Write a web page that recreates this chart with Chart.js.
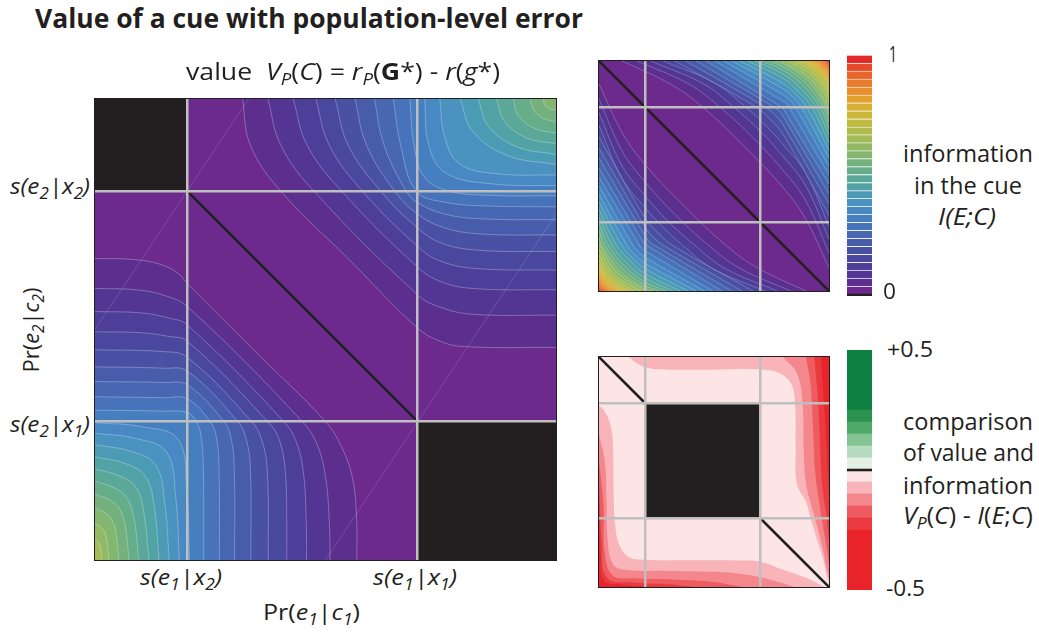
<!DOCTYPE html>
<html>
<head>
<meta charset="utf-8">
<title>Value of a cue with population-level error</title>
<script src="https://cdn.jsdelivr.net/npm/chart.js@4.4.1/dist/chart.umd.min.js"></script>
<style>
html,body{margin:0;padding:0;background:#fff;}
body{width:1039px;height:636px;position:relative;overflow:hidden;font-family:"Open Sans","Noto Sans","DejaVu Sans",sans-serif;color:#231f20;}
canvas{position:absolute;}
.frame{position:absolute;box-sizing:border-box;border:1.5px solid #231f20;pointer-events:none;}
.t{position:absolute;white-space:nowrap;line-height:1;transform-origin:0 0;}
.t sub{font-size:0.7em;vertical-align:-0.32em;line-height:0;}
.it{font-style:italic;}
</style>
</head>
<body>
<canvas id="mainChart" width="461" height="461" style="left:95px;top:99px"></canvas>
<div class="frame" style="left:94px;top:98px;width:463px;height:463px"></div>
<canvas id="infoChart" width="230" height="230" style="left:599px;top:61px"></canvas>
<div class="frame" style="left:598px;top:60px;width:232px;height:232px"></div>
<canvas id="cmpChart" width="230" height="230" style="left:599px;top:357px"></canvas>
<div class="frame" style="left:598px;top:356px;width:232px;height:232px"></div>
<canvas id="infoBar" width="25" height="241" style="left:847px;top:55px"></canvas>
<canvas id="cmpBar" width="25" height="240" style="left:847px;top:350px"></canvas>

<div class="t" data-x="35" data-w="548" style="top:5px;font-size:26px;font-weight:700">Value of a cue with population-level error</div>
<div class="t" data-x="186" data-w="314" style="top:60px;font-size:23px">value&nbsp; <i>V<sub>P</sub></i>(<i>C</i>) = <i>r<sub>P</sub></i>(<b>G</b>*) - <i>r</i>(<i>g</i>*)</div>
<div class="t it" data-x="10" data-w="80" style="top:174px;font-size:22px">s(e<sub>2</sub>|x<sub>2</sub>)</div>
<div class="t it" data-x="10" data-w="80" style="top:412px;font-size:22px">s(e<sub>2</sub>|x<sub>1</sub>)</div>
<div class="t it" data-x="140" data-w="82" style="top:565px;font-size:22px">s(e<sub>1</sub>|x<sub>2</sub>)</div>
<div class="t it" data-x="373" data-w="84" style="top:565px;font-size:22px">s(e<sub>1</sub>|x<sub>1</sub>)</div>
<div class="t" data-x="263" data-w="97" style="top:600px;font-size:22px">Pr(<i>e<sub>1</sub></i>|<i>c<sub>1</sub></i>)</div>
<div class="t" data-rot="1" data-cx="30" data-cy="330" data-w="85" style="font-size:22px">Pr(<i>e<sub>2</sub></i>|<i>c<sub>2</sub></i>)</div>

<div class="t" data-x="889" data-w="8" style="top:44px;font-size:21px">1</div>
<div class="t" data-x="883" data-w="13" style="top:281px;font-size:21px">0</div>
<div class="t" data-cx="968" data-w="130" style="top:141px;font-size:24px">information</div>
<div class="t" data-cx="968" data-w="108" style="top:173px;font-size:24px">in the cue</div>
<div class="t it" data-cx="967" data-w="58" style="top:204px;font-size:24px">I(E;C)</div>
<div class="t" data-x="887" data-w="46" style="top:339px;font-size:21px">+0.5</div>
<div class="t" data-x="886" data-w="39" style="top:578px;font-size:21px">-0.5</div>
<div class="t" data-cx="968" data-w="130" style="top:409px;font-size:24px">comparison</div>
<div class="t" data-cx="968" data-w="131" style="top:440px;font-size:24px">of value and</div>
<div class="t" data-cx="968" data-w="130" style="top:473px;font-size:24px">information</div>
<div class="t" data-cx="968" data-w="130" style="top:503px;font-size:24px"><i>V<sub>P</sub></i>(<i>C</i>) - <i>I</i>(<i>E</i>;<i>C</i>)</div>

<script>
// ---------------- data ----------------
// colour of each band of width 1/30 (value / information), bottom to top
const valueBandColors = ['#6b2a8c','#5c2f8f','#533694','#4d3e99','#4a479f','#4951a5','#485cac','#4767b3','#4773ba','#467fc0','#4889c4','#4a93c0','#4c9bb5','#52a3a6','#5ba898','#66ad8a','#74b17d','#83b671','#92ba65','#a1bc59','#b0bd4e','#bfbb43','#ccb63a','#d8ae34','#e1a030','#e78f2e','#e97b2d','#e8652c','#e54b2b','#e2282a'];
const valueLevelStep = 1/30;

// strategy switch points s(e1|x2), s(e1|x1) and s(e2|x1), s(e2|x2)
const gridX = [0.2, 0.7];
const gridY = [0.3, 0.8];

// main plot: value contours in the upper-right region (level k = 1..17)
const mainUpperContours = [
 [[0.32,1],[0.337,0.9],[0.403,0.8],[0.55,0.653],[0.7,0.503],[0.75,0.474],[0.8,0.463],[1,0.461]],
 [[0.375,1],[0.403,0.9],[0.475,0.8],[0.7,0.575],[0.75,0.548],[0.82,0.533],[1,0.531]],
 [[0.43,1],[0.46,0.9],[0.535,0.8],[0.7,0.635],[0.75,0.604],[0.82,0.589],[1,0.586]],
 [[0.479,1],[0.508,0.9],[0.58,0.8],[0.7,0.68],[0.75,0.648],[0.83,0.632],[1,0.629]],
 [[0.521,1],[0.549,0.9],[0.62,0.8],[0.7,0.72],[0.75,0.688],[0.83,0.672],[1,0.669]],
 [[0.564,1],[0.589,0.9],[0.65,0.8],[0.7,0.75],[0.76,0.72],[0.84,0.707],[1,0.705]],
 [[0.606,1],[0.627,0.9],[0.675,0.8],[0.7,0.775],[0.76,0.75],[0.84,0.74],[1,0.738]],
 [[0.647,1],[0.663,0.9],[0.697,0.8],[0.76,0.776],[0.85,0.768],[1,0.766]],
 [[0.683,1],[0.692,0.9],[0.715,0.83],[0.77,0.8],[0.86,0.791],[1,0.79]],
 [[0.715,1],[0.724,0.9],[0.76,0.84],[0.86,0.816],[1,0.812]],
 [[0.748,1],[0.758,0.92],[0.79,0.86],[0.87,0.838],[1,0.835]],
 [[0.792,1],[0.82,0.929],[0.896,0.877],[1,0.858]],
 [[0.831,1],[0.854,0.94],[0.916,0.896],[1,0.88]],
 [[0.871,1],[0.888,0.952],[0.936,0.916],[1,0.903]],
 [[0.907,1],[0.919,0.963],[0.954,0.936],[1,0.926]],
 [[0.944,1],[0.952,0.976],[0.972,0.958],[1,0.951]],
 [[0.972,1],[0.976,0.988],[0.986,0.979],[1,0.976]]
];
// main plot: value contours in the lower-left region (level k = 1..19)
const mainLowerContours = [
 [[0,0.654],[0.08,0.652],[0.14,0.642],[0.18,0.622],[0.2,0.6],[0.35,0.45],[0.5,0.3],[0.535,0.245],[0.558,0.18],[0.567,0.1],[0.568,0]],
 [[0,0.589],[0.09,0.586],[0.15,0.574],[0.2,0.55],[0.45,0.3],[0.482,0.25],[0.5,0.18],[0.508,0.09],[0.51,0]],
 [[0,0.539],[0.1,0.536],[0.16,0.525],[0.2,0.51],[0.41,0.3],[0.437,0.255],[0.452,0.19],[0.458,0.09],[0.459,0]],
 [[0,0.495],[0.1,0.493],[0.16,0.485],[0.2,0.475],[0.375,0.3],[0.4,0.26],[0.413,0.19],[0.416,0.08],[0.416,0]],
 [[0,0.456],[0.15,0.452],[0.2,0.44],[0.34,0.3],[0.362,0.26],[0.374,0.19],[0.376,0]],
 [[0,0.419],[0.15,0.416],[0.2,0.41],[0.31,0.3],[0.328,0.262],[0.337,0.2],[0.338,0]],
 [[0,0.387],[0.15,0.385],[0.2,0.38],[0.28,0.3],[0.295,0.265],[0.302,0.2],[0.303,0]],
 [[0,0.354],[0.15,0.352],[0.2,0.35],[0.25,0.3],[0.263,0.268],[0.269,0.2],[0.27,0]],
 [[0,0.325],[0.15,0.323],[0.2,0.32],[0.22,0.3],[0.23,0.27],[0.235,0.2],[0.236,0]],
 [[0,0.298],[0.1025,0.289],[0.18,0.262],[0.199,0.149],[0.205,0]],
 [[0,0.275],[0.0915,0.263],[0.1555,0.234],[0.175,0.1375],[0.183,0]],
 [[0,0.25],[0.0805,0.235],[0.132,0.205],[0.151,0.125],[0.161,0]],
 [[0,0.224],[0.0695,0.208],[0.111,0.179],[0.129,0.112],[0.139,0]],
 [[0,0.198],[0.0585,0.18],[0.091,0.1545],[0.1065,0.099],[0.117,0]],
 [[0,0.171],[0.0475,0.154],[0.072,0.13],[0.0855,0.0855],[0.095,0]],
 [[0,0.143],[0.037,0.127],[0.0555,0.107],[0.066,0.0715],[0.074,0]],
 [[0,0.113],[0.026,0.0995],[0.0385,0.0835],[0.0458,0.0565],[0.052,0]],
 [[0,0.08],[0.015,0.0696],[0.0219,0.0584],[0.0261,0.04],[0.03,0]],
 [[0,0.045],[0.0075,0.039],[0.0108,0.0324],[0.013,0.0225],[0.015,0]]
];
// faint triangulation seams visible in the main plot
const mainSeams = [
 [[0,0.5],[0.333,1]],
 [[0.5,0],[1,0.75]]
];

// information plot: where each contour (level k = 1..29) crosses the top edge, the diagonal y=x, y=0.8 and y=0.9
const infoTopCross  = [0.1,0.165,0.225,0.28,0.33,0.378,0.422,0.465,0.505,0.542,0.578,0.612,0.645,0.677,0.707,0.735,0.764,0.792,0.818,0.842,0.864,0.885,0.905,0.922,0.939,0.954,0.968,0.98,0.991];
const infoDiagCross = [0.63,0.668,0.698,0.722,0.745,0.765,0.783,0.8,0.815,0.829,0.843,0.855,0.866,0.879,0.89,0.9,0.911,0.92,0.93,0.938,0.947,0.955,0.962,0.969,0.975,0.981,0.987,0.992,0.996];
const infoCross08   = [0.45,0.525,0.585,0.637,0.682,0.722,0.76,0.794,0.825,0.853,0.879,0.902,0.924,0.943,0.96,0.975,0.988,0.997];
const infoCross09   = [0.31,0.39,0.455,0.51,null,null,null,null,null,null,null,null,null,null,null,null,null,null,0.956,0.971,0.984,0.995];

// comparison plot: levels and band colours, -0.5 .. +0.5
const cmpLevels = [-0.5,-0.25,-0.2,-0.15,-0.1,-0.05,0,0.05,0.1,0.15,0.2,0.25,0.5];
const cmpBandColors = ['#e8232a','#ea3a3f','#ee5c61','#f3878c','#f8b4b8','#fde4e5','#e3f1e5','#b7dbbf','#84c394','#4faa69','#2b9250','#0e8040'];
// contours at -0.05, -0.10, -0.15, -0.20, -0.25 near the upper/right edges
const cmpUpperContours = [
 [[0.13,1],[0.165,0.972],[0.22,0.951],[0.3,0.945],[0.5,0.945],[0.7,0.946],[0.78,0.932],[0.835,0.885],[0.852,0.8],[0.855,0.6],[0.86,0.45],[0.9,0.37],[0.92,0.3],[0.95,0.2],[0.975,0.12],[0.99,0.05],[1,0.02]],
 [[0.8,1],[0.86,0.93],[0.885,0.8],[0.89,0.6],[0.9,0.45],[0.93,0.33],[0.965,0.2],[0.99,0.08],[1,0.04]],
 [[0.9,1],[0.92,0.88],[0.93,0.7],[0.94,0.5],[0.96,0.35],[0.985,0.2],[1,0.1]],
 [[0.935,1],[0.95,0.85],[0.96,0.65],[0.97,0.45],[0.99,0.3],[1,0.2]],
 [[0.965,1],[0.975,0.85],[0.985,0.7],[0.995,0.5],[1,0.4]]
];
// same levels near the left/bottom edges
const cmpLowerContours = [
 [[0,0.79],[0.03,0.755],[0.055,0.68],[0.062,0.55],[0.064,0.4],[0.07,0.27],[0.09,0.18],[0.13,0.13],[0.2,0.118],[0.4,0.116],[0.6,0.115],[0.7,0.11],[0.8,0.075],[0.9,0.04],[0.98,0]],
 [[0,0.66],[0.025,0.55],[0.032,0.4],[0.038,0.2],[0.06,0.1],[0.11,0.075],[0.3,0.07],[0.5,0.066],[0.65,0.052],[0.78,0.022],[0.85,0]],
 [[0,0.55],[0.02,0.35],[0.025,0.15],[0.06,0.05],[0.15,0.038],[0.35,0.032],[0.5,0.022],[0.62,0]],
 [[0,0.45],[0.012,0.2],[0.035,0.04],[0.15,0.02],[0.3,0.012],[0.42,0]],
 [[0,0.35],[0.006,0.15],[0.02,0.03],[0.1,0.01],[0.25,0]]
];

// ---------------- drawing ----------------
const DARK = '#231f20';
const GRID = '#bfbfbf';
const STROKE = 'rgba(255,255,255,0.4)';

function baseOptions(gx, gy){
  return {
    responsive:false, maintainAspectRatio:false, animation:false, events:[],
    layout:{padding:0},
    plugins:{legend:{display:false}, tooltip:{enabled:false}, title:{display:false}},
    elements:{point:{radius:0,hitRadius:0,hoverRadius:0}, line:{tension:0.4, borderCapStyle:'butt'}},
    scales:{
      x:{type:'linear',min:0,max:1,border:{display:false},ticks:{display:false},
         grid:{color:GRID,lineWidth:2.5,drawTicks:false,z:1},
         afterBuildTicks:s=>{s.ticks=gx.map(v=>({value:v}));}},
      y:{type:'linear',min:0,max:1,border:{display:false},ticks:{display:false},
         grid:{color:GRID,lineWidth:2.5,drawTicks:false,z:1},
         afterBuildTicks:s=>{s.ticks=gy.map(v=>({value:v}));}}
    }
  };
}
function region(pts, color, fill, stroke, sw){
  return {data: pts.map(p=>({x:p[0], y:p[1]})), showLine:true, fill:fill,
    backgroundColor: color, borderColor: stroke || 'rgba(0,0,0,0)',
    borderWidth: stroke ? (sw || 0.7) : 0, pointRadius:0, tension:0.4};
}
function ordered(list){ const n=list.length; list.forEach((d,i)=>{d.order=n-i;}); return list; }
function mirror(pts){ return pts.map(p=>[1-p[0],1-p[1]]).sort((a,b)=>a[0]-b[0]); }

// ---- main value plot
const mainDs = [];
mainDs.push(region([[0,0],[1,0]], valueBandColors[0], 'end'));
mainUpperContours.forEach((c,i)=>mainDs.push(region(c, valueBandColors[i+1], 'end', STROKE)));
mainLowerContours.forEach((c,i)=>mainDs.push(region(c, valueBandColors[i+1], 'start', STROKE)));
mainSeams.forEach(s=>mainDs.push(region(s, 'rgba(0,0,0,0)', false, 'rgba(255,255,255,0.18)', 0.8)));
mainDs.push(region([[0,gridY[1]],[gridX[0],gridY[1]]], DARK, 'end'));
mainDs.push(region([[gridX[1],gridY[0]],[1,gridY[0]]], DARK, 'start'));
mainDs.push(region([[gridX[0],gridY[1]],[gridX[1],gridY[0]]], 'rgba(0,0,0,0)', false, DARK, 2.5));
new Chart(document.getElementById('mainChart'), {type:'scatter', data:{datasets:ordered(mainDs)}, options:baseOptions(gridX, gridY)});

// ---- information plot
function infoContour(k){
  const a = infoTopCross[k], d = infoDiagCross[k];
  const pts = [[a,1],[d,d],[1,a]];
  const c8 = infoCross08[k], c9 = infoCross09[k];
  if (c8 != null) { pts.push([c8,0.8]); pts.push([0.8,c8]); }
  if (c9 != null) { pts.push([c9,0.9]); pts.push([0.9,c9]); }
  return pts.sort((p,q)=>p[0]-q[0]);
}
const infoDs = [];
infoDs.push(region([[0,0],[1,0]], valueBandColors[0], 'end'));
infoTopCross.forEach((_,k)=>infoDs.push(region(infoContour(k), valueBandColors[k+1], 'end', STROKE, 0.6)));
infoTopCross.forEach((_,k)=>infoDs.push(region(mirror(infoContour(k)), valueBandColors[k+1], 'start', STROKE, 0.6)));
infoDs.push(region([[0,1],[1,0]], 'rgba(0,0,0,0)', false, DARK, 2.5));
new Chart(document.getElementById('infoChart'), {type:'scatter', data:{datasets:ordered(infoDs)}, options:baseOptions(gridX, gridY)});

// ---- comparison plot
const cmpDs = [];
cmpDs.push(region([[0,0],[1,0]], cmpBandColors[5], 'end'));
cmpUpperContours.forEach((c,i)=>cmpDs.push(region(c, cmpBandColors[4-i], 'end')));
cmpLowerContours.forEach((c,i)=>cmpDs.push(region(c, cmpBandColors[4-i], 'start')));
cmpDs.push(region([[gridX[0],gridY[1]],[gridX[1],gridY[1]]], DARK, {value:gridY[0]}));
cmpDs.push(region([[0,1],[gridX[0],gridY[1]]], 'rgba(0,0,0,0)', false, DARK, 2.5));
cmpDs.push(region([[gridX[1],gridY[0]],[1,0]], 'rgba(0,0,0,0)', false, DARK, 2.5));
new Chart(document.getElementById('cmpChart'), {type:'scatter', data:{datasets:ordered(cmpDs)}, options:baseOptions(gridX, gridY)});

// ---- colour bars
function colorbar(id, edges, colors, sep, zeroBand, min, max){
  const ds = colors.map((c,i)=>({data:[[edges[i],edges[i+1]]], backgroundColor:c,
    borderColor: sep || c, borderWidth: sep ? {top:1,bottom:0,left:0,right:0} : 0, borderSkipped:false,
    grouped:false, barPercentage:1, categoryPercentage:1, order:1}));
  ds.push({data:[zeroBand], backgroundColor:DARK, borderWidth:0, grouped:false, barPercentage:1, categoryPercentage:1, order:0});
  new Chart(document.getElementById(id), {type:'bar', data:{labels:[''], datasets:ds},
    options:{responsive:false, maintainAspectRatio:false, animation:false, events:[], layout:{padding:0},
      plugins:{legend:{display:false}, tooltip:{enabled:false}},
      scales:{x:{display:false}, y:{display:false, min:min, max:max}}}});
}
const valueEdges = valueBandColors.map((_,i)=>i*valueLevelStep).concat([1]);
colorbar('infoBar', valueEdges, valueBandColors, 'rgba(255,255,255,0.35)', [-0.008,0], -0.008, 1);
colorbar('cmpBar', cmpLevels, cmpBandColors, null, [-0.004,0.004], -0.5, 0.5);

// ---------------- text fitting ----------------
function fitTexts(){
  document.querySelectorAll('.t').forEach(el=>{
    const w = +el.dataset.w;
    const r = el.getBoundingClientRect();
    const s = w / r.width;
    if (el.dataset.rot){
      el.style.left = (+el.dataset.cx - r.width/2)+'px';
      el.style.top = (+el.dataset.cy - r.height/2)+'px';
      el.style.transformOrigin = '50% 50%';
      el.style.transform = 'rotate(-90deg) scaleX('+s+')';
    } else {
      const left = el.dataset.cx ? (+el.dataset.cx - w/2) : +el.dataset.x;
      el.style.left = left+'px';
      el.style.transform = 'scaleX('+s+')';
    }
  });
}
fitTexts();
</script>
</body>
</html>
